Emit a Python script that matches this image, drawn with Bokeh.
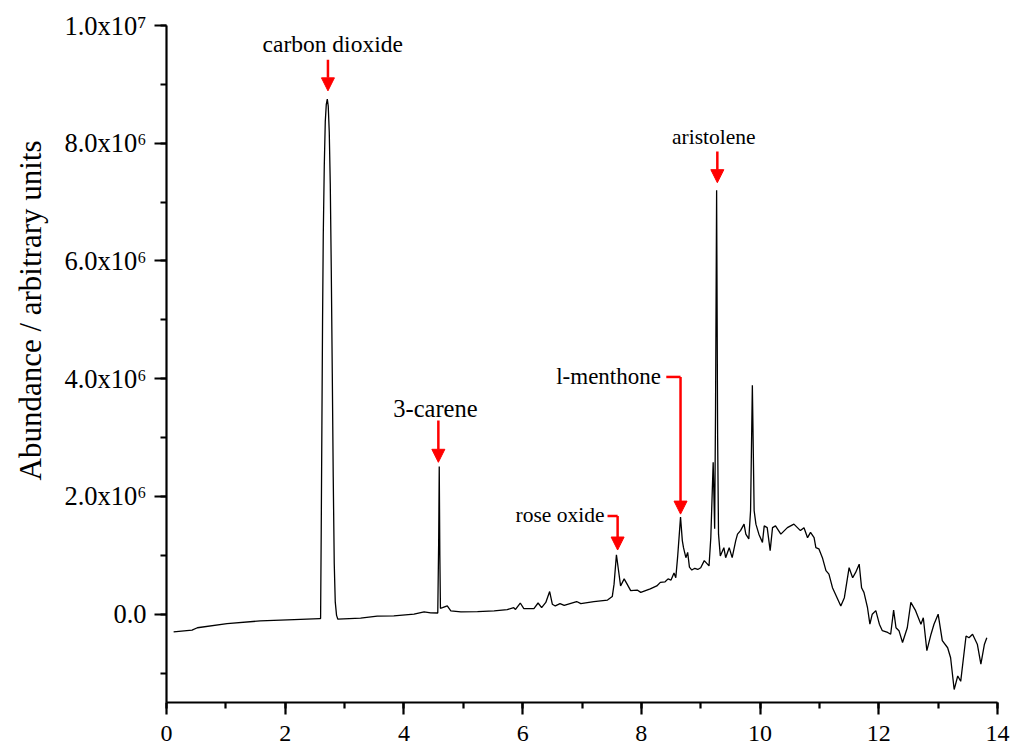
import numpy as np
from bokeh.plotting import figure
from bokeh.models import (Range1d, SingleIntervalTicker, CustomJSTickFormatter,
                          Arrow, NormalHead, Label, Title)
from bokeh.embed import file_html
from bokeh.resources import INLINE

# ---- data (time in min, abundance in 1e6 units) ----
time = [
    0.12, 0.43, 0.52, 1.02, 1.58, 2.15, 2.58, 2.596, 2.607, 2.618, 2.629, 2.641,
    2.658, 2.675, 2.692, 2.709, 2.725, 2.742, 2.759, 2.776, 2.793, 2.809, 2.826,
    2.843, 2.865, 2.887, 3.27, 3.55, 3.83, 4.17, 4.34, 4.45, 4.57, 4.585, 4.595,
    4.605, 4.615, 4.65, 4.73, 4.79, 4.96, 5.24, 5.52, 5.74, 5.85, 5.88, 5.96,
    6.02, 6.19, 6.26, 6.32, 6.39, 6.455, 6.50, 6.55, 6.63, 6.70, 6.91, 6.98,
    7.20, 7.43, 7.51, 7.54, 7.58, 7.65, 7.71, 7.76, 7.82, 7.93, 7.99, 8.15,
    8.26, 8.32, 8.40, 8.45, 8.50, 8.55, 8.58, 8.61, 8.635, 8.66, 8.69, 8.71,
    8.75, 8.78, 8.81, 8.85, 8.90, 8.95, 9.00, 9.06, 9.14, 9.17, 9.21, 9.235,
    9.25, 9.268, 9.285, 9.30, 9.33, 9.39, 9.42, 9.48, 9.53, 9.59, 9.62, 9.67,
    9.73, 9.76, 9.81, 9.84, 9.87, 9.90, 9.93, 9.98, 10.04, 10.07, 10.12, 10.17,
    10.21, 10.26, 10.35, 10.46, 10.57, 10.68, 10.74, 10.80, 10.85, 10.91, 10.94,
    10.99, 11.05, 11.11, 11.16, 11.22, 11.27, 11.36, 11.42, 11.50, 11.56, 11.61,
    11.67, 11.71, 11.75, 11.81, 11.85, 11.89, 11.95, 12.01, 12.06, 12.15, 12.20,
    12.25, 12.29, 12.34, 12.40, 12.48, 12.54, 12.62, 12.71, 12.75, 12.81, 12.88,
    12.93, 13.00, 13.07, 13.16, 13.21, 13.27, 13.33, 13.38, 13.47, 13.52, 13.58,
    13.66, 13.72, 13.78, 13.82,
]
abundance_1e6 = [
    -0.30, -0.27, -0.23, -0.16, -0.114, -0.092, -0.075, -0.075, 1.45, 3.21, 4.97, 6.43,
    7.61, 8.37, 8.66, 8.75, 8.63, 8.19, 7.31, 5.85, 4.09, 2.33, 0.86,
    0.21, -0.02, -0.085, -0.068, -0.034, -0.029, 0.0, 0.04, 0.022, 0.02, 1.2, 2.51,
    1.0, 0.1, 0.11, 0.14, 0.056, 0.04, 0.044, 0.056, 0.078, 0.11, 0.08, 0.19,
    0.095, 0.095, 0.19, 0.11, 0.20, 0.385, 0.17, 0.14, 0.18, 0.15, 0.215, 0.18,
    0.215, 0.24, 0.30, 0.51, 1.01, 0.48, 0.60, 0.51, 0.40, 0.41, 0.37, 0.43,
    0.48, 0.54, 0.55, 0.60, 0.58, 0.70, 0.62, 0.96, 1.30, 1.65, 1.25, 1.13,
    0.96, 1.05, 0.80, 0.75, 0.78, 0.76, 0.79, 0.91, 0.82, 1.30, 2.58, 1.45,
    3.5, 7.20, 3.0, 1.36, 0.99, 1.13, 0.96, 1.13, 0.96, 1.25, 1.36, 1.42,
    1.53, 1.36, 1.28, 1.76, 3.89, 1.76, 1.53, 1.36, 1.22, 1.50, 1.47, 1.08,
    1.47, 1.50, 1.36, 1.47, 1.53, 1.42, 1.47, 1.30, 1.39, 1.30, 1.13,
    1.11, 0.96, 0.74, 0.68, 0.45, 0.34, 0.14, 0.28, 0.79, 0.62, 0.71,
    0.85, 0.45, 0.37, 0.11, -0.17, 0.0, 0.06, -0.17, -0.28, -0.31, -0.34,
    0.07, -0.23, -0.28, -0.48, -0.23, 0.20, 0.06, -0.17, -0.06, -0.62, -0.34,
    -0.17, 0.0, -0.45, -0.57, -0.74, -1.28, -1.05, -1.14, -0.37, -0.40, -0.34,
    -0.51, -0.85, -0.51, -0.40,
]

# ---- annotations: name, text position, arrow start/end (data units) ----
names      = ["carbon dioxide", "3-carene", "rose oxide", "l-menthone", "aristolene"]
label_x    = [2.80, 4.53, 7.38, 8.33, 9.22]
label_y    = [9.69, 3.49, 1.69, 4.03, 8.11]     # 1e6
label_side = ["center", "center", "right", "right", "center"]
label_size = ["23.5px", "24.5px", "21.5px", "23px", "21.5px"]
elbow_x0   = [None, None, 7.43, 8.42, None]      # horizontal leader start
arrow_x    = [2.72, 4.58, 7.60, 8.66, 9.28]
arrow_y0   = [9.42, 3.29, 1.67, 4.03, 7.86]      # 1e6
arrow_y1   = [8.89, 2.58, 1.09, 1.70, 7.33]      # 1e6

SERIF = "Liberation Serif"

y = np.array(abundance_1e6) * 1e6

p = figure(width=1013, height=744, output_backend="svg", toolbar_location=None,
           x_range=Range1d(0, 14), y_range=Range1d(-1.5e6, 1.0e7),
           min_border_left=166, min_border_right=16, min_border_top=25,
           min_border_bottom=42)
p.outline_line_color = None
p.grid.grid_line_color = None
p.background_fill_color = "white"
p.border_fill_color = "white"

p.line(time, y, line_color="black", line_width=1.3)

# axes
p.xaxis.ticker = SingleIntervalTicker(interval=2, num_minor_ticks=2)
p.yaxis.ticker = SingleIntervalTicker(interval=2e6, num_minor_ticks=2)
p.yaxis.formatter = CustomJSTickFormatter(code="""
    if (Math.abs(tick) < 1e-6) { return "0.0"; }
    const sup = {"0":"\u2070","1":"\u00b9","2":"\u00b2","3":"\u00b3","4":"\u2074",
                 "5":"\u2075","6":"\u2076","7":"\u2077","8":"\u2078","9":"\u2079","-":"\u207b"};
    const e = Math.floor(Math.log10(Math.abs(tick)) + 1e-9);
    const m = tick / Math.pow(10, e);
    return m.toFixed(1) + "x10" + String(e).split("").map(c => sup[c]).join("");
""")
for ax in (p.xaxis[0], p.yaxis[0]):
    ax.axis_line_width = 2.2
    ax.axis_line_color = "black"
    ax.major_tick_line_width = 2.2
    ax.minor_tick_line_width = 2.2
    ax.major_tick_line_color = "black"
    ax.minor_tick_line_color = "black"
    ax.major_tick_in = 0
    ax.minor_tick_in = 0
    ax.major_tick_out = 12
    ax.minor_tick_out = 6
    ax.major_label_text_font = SERIF
    ax.major_label_text_color = "black"
p.xaxis.major_label_text_font_size = "24px"
p.yaxis.major_label_text_font_size = "26.5px"
p.xaxis.major_label_standoff = 11
p.yaxis.major_label_standoff = 8

# y-axis title as a left-side title panel, shifted up from the frame bottom
p.add_layout(Title(text="Abundance / arbitrary units", align="left", offset=222,
                   vertical_align="top", standoff=23,
                   text_font=SERIF, text_font_size="31px", text_font_style="normal",
                   text_color="black"), "left")

# annotations
for i, name in enumerate(names):
    p.add_layout(Label(x=label_x[i], y=label_y[i] * 1e6, text=name,
                       text_align=label_side[i], text_baseline="middle",
                       text_font=SERIF, text_font_size=label_size[i],
                       text_color="black"))
    if elbow_x0[i] is not None:
        p.segment(x0=[elbow_x0[i]], y0=[arrow_y0[i] * 1e6], x1=[arrow_x[i]],
                  y1=[arrow_y0[i] * 1e6], line_color="red", line_width=2.5)
    p.add_layout(Arrow(x_start=arrow_x[i], y_start=arrow_y0[i] * 1e6,
                       x_end=arrow_x[i], y_end=arrow_y1[i] * 1e6,
                       line_color="red", line_width=2.5,
                       end=NormalHead(size=13, fill_color="red", line_color="red",
                                      line_width=1)))

open("out.html", "w").write(file_html(p, INLINE))
